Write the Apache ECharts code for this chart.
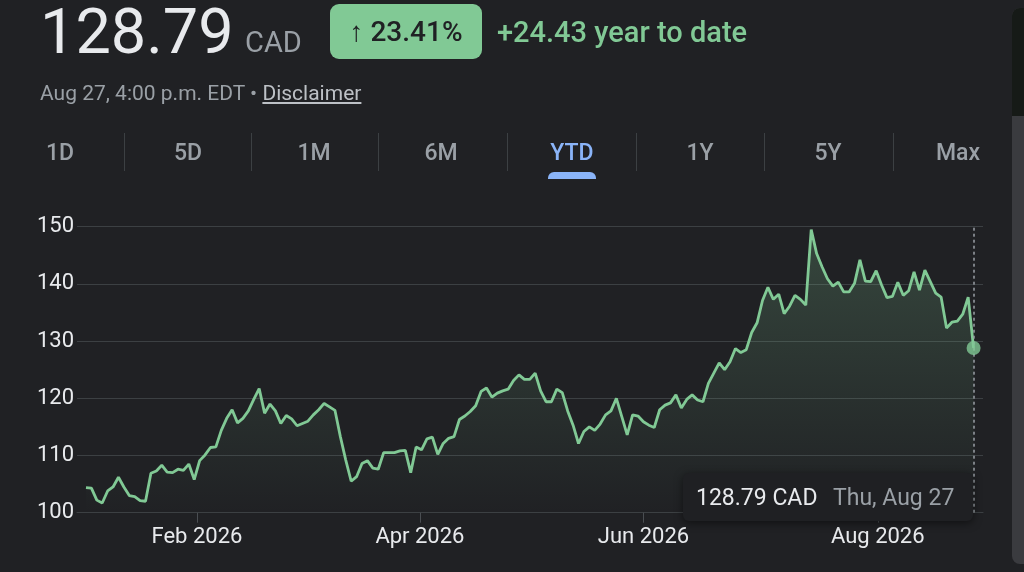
<!DOCTYPE html>
<html>
<head>
<meta charset="utf-8">
<script src="https://cdn.jsdelivr.net/npm/echarts@6/dist/echarts.min.js"></script>
<style>
html, body { margin: 0; padding: 0; background: #202124; width: 1024px; height: 572px; overflow: hidden; font-family: Roboto, "Noto Sans", sans-serif; }
#chart { position: absolute; left: 0; top: 0; width: 1024px; height: 572px; }
.abs { position: absolute; white-space: nowrap; line-height: 1; z-index: 2; }
.tab { position: absolute; top: 141px; width: 90px; margin-left: -45px; text-align: center; font-size: 23px; font-weight: 500; color: #9aa0a6; line-height: 23px; z-index: 2; }
.sep { position: absolute; top: 133px; width: 1px; height: 38px; background: #3c4043; z-index: 2; }
</style>
</head>
<body>
<div id="chart"></div>

<div class="abs" style="left:40px; top:0px; font-size:63px; color:#e8eaed;">128.79</div>
<div class="abs" style="left:245px; top:28px; font-size:29px; color:#9aa0a6;">CAD</div>
<div class="abs" style="left:330px; top:4px; width:152px; height:55px; border-radius:9px; background:#81c995; color:#202124; font-size:28px; font-weight:500; line-height:55px; text-align:center;">↑ 23.41%</div>
<div class="abs" style="left:497px; top:18px; font-size:29px; font-weight:500; color:#81c995;">+24.43 year to date</div>
<div class="abs" style="left:40px; top:83px; font-size:21px; color:#9aa0a6;">Aug 27, 4:00 p.m. EDT • <span style="text-decoration:underline; color:#bdc1c6;">Disclaimer</span></div>

<div id="tabs"></div>

<div class="abs" style="left:1012px; top:8px; width:20px; height:556px; border-radius:8px; background:#3a3b3f; z-index:1;"></div>
<div class="abs" style="left:1012px; top:8px; width:20px; height:108px; border-top-left-radius:8px; background:#161a17; z-index:1;"></div>

<div class="abs" style="left:683px; top:473px; width:290px; height:48px; border-radius:6px; background:#1f2023; box-shadow:0 2px 8px rgba(0,0,0,0.5); z-index:3;">
  <span style="position:absolute; left:13px; top:13px; font-size:23px; color:#e8eaed;">128.79 CAD</span>
  <span style="position:absolute; left:150px; top:13px; font-size:23px; color:#9aa0a6;">Thu, Aug 27</span>
</div>

<script>
// closing prices, one per trading day, Jan 2 - Aug 27 2026
var prices = [
  104.4, 104.3, 102.2, 101.7, 103.8, 104.5, 106.2, 104.5, 103.0, 102.8,
  102.1, 102.0, 106.9, 107.3, 108.3, 107.1, 107.0, 107.6, 107.4, 108.5,
  105.8, 109.1, 110.1, 111.4, 111.5, 114.4, 116.5, 118.0, 115.7, 116.5,
  117.8, 119.8, 121.7, 117.4, 119.0, 117.8, 115.6, 117.0, 116.4, 115.2,
  115.6, 116.0, 117.1, 118.0, 119.1, 118.5, 117.9, 113.3, 109.2, 105.5,
  106.3, 108.6, 109.1, 107.8, 107.6, 110.5, 110.5, 110.5, 110.8, 110.9,
  107.0, 111.5, 111.0, 112.9, 113.2, 110.2, 112.1, 113.0, 113.3, 116.3,
  116.9, 117.7, 118.7, 121.2, 121.8, 120.2, 120.9, 121.3, 121.6, 123.1,
  124.1, 123.3, 123.3, 124.4, 121.3, 119.4, 119.4, 121.6, 121.0, 117.8,
  115.3, 112.1, 114.2, 115.0, 114.4, 115.5, 117.1, 117.8, 120.0, 116.8,
  113.6, 117.1, 116.9, 115.9, 115.3, 114.9, 118.0, 118.8, 119.2, 120.6,
  118.3, 119.8, 120.6, 119.7, 119.4, 122.6, 124.4, 126.2, 125.0, 126.4,
  128.7, 128.0, 128.5, 131.5, 133.2, 137.1, 139.4, 137.3, 138.2, 134.8,
  136.1, 138.0, 137.3, 136.3, 149.5, 145.3, 143.0, 140.9, 139.6, 140.3,
  138.6, 138.6, 140.1, 144.2, 140.5, 140.4, 142.3, 139.8, 137.6, 137.8,
  140.3, 138.0, 138.8, 142.1, 138.9, 142.4, 140.4, 138.4, 137.7, 132.3,
  133.3, 133.5, 134.7, 137.7, 128.79
];
// month starts, as positions in trading days
var monthTicks = [20.5, 61.7, 103, 146.3];
var monthLabels = ['Feb 2026', 'Apr 2026', 'Jun 2026', 'Aug 2026'];
var rangeTabs = ['1D', '5D', '1M', '6M', 'YTD', '1Y', '5Y', 'Max'];

// tab row
var tabCenters = [60, 188, 314, 441, 572, 700, 828, 958];
var tabsEl = document.getElementById('tabs');
rangeTabs.forEach(function(t, i) {
    var d = document.createElement('div');
    d.className = 'tab';
    d.style.left = tabCenters[i] + 'px';
    d.textContent = t;
    if (t == 'YTD') {
        d.style.color = '#8ab4f8';
        var u = document.createElement('div');
        u.className = 'abs';
        u.style.cssText = 'left:' + (tabCenters[i] - 24) + 'px;top:172px;width:48px;height:7px;background:#8ab4f8;border-radius:6px 6px 0 0;';
        tabsEl.appendChild(u);
    }
    tabsEl.appendChild(d);
    if (i > 0) {
        var s = document.createElement('div');
        s.className = 'sep';
        s.style.left = Math.round((tabCenters[i - 1] + tabCenters[i]) / 2) + 'px';
        tabsEl.appendChild(s);
    }
});

var chart = echarts.init(document.getElementById('chart'));
var last = prices.length - 1;
var lineData = prices.map(function(v, i) { return [i, v]; });

chart.setOption({
    backgroundColor: '#202124',
    animation: false,
    textStyle: { fontFamily: 'Roboto' },
    grid: { left: 77, right: 41, top: 226.7, bottom: 59.3 },
    xAxis: {
        type: 'value',
        min: -1.66,
        max: last + 1.74,
        splitLine: { show: false },
        axisLine: { show: true, lineStyle: { color: '#3c4043' } },
        axisTick: { show: true, customValues: monthTicks, length: 10, lineStyle: { color: '#4a4e52' } },
        axisLabel: {
            customValues: monthTicks,
            color: '#e8eaed',
            fontSize: 22,
            margin: 14,
            formatter: function(v) {
                var best = 0;
                monthTicks.forEach(function(t, i) {
                    if (Math.abs(t - v) < Math.abs(monthTicks[best] - v)) best = i;
                });
                return monthLabels[best];
            }
        }
    },
    yAxis: {
        type: 'value',
        min: 100,
        max: 150,
        interval: 10,
        axisLine: { show: false },
        axisTick: { show: false },
        axisLabel: { color: '#e8eaed', fontSize: 22, margin: 3 },
        splitLine: { lineStyle: { color: '#3c4043', width: 1 } }
    },
    series: [{
        type: 'line',
        data: lineData,
        symbol: 'none',
        lineStyle: { color: '#81c995', width: 2.8 },
        areaStyle: {
            color: new echarts.graphic.LinearGradient(0, 0, 0, 1, [
                { offset: 0, color: 'rgba(129,201,149,0.32)' },
                { offset: 1, color: 'rgba(129,201,149,0)' }
            ])
        },
        markLine: {
            silent: true,
            symbol: ['none', 'none'],
            label: { show: false },
            lineStyle: { color: '#9aa0a6', type: [3, 3], width: 1.5 },
            data: [{ xAxis: last }]
        }
    }, {
        type: 'scatter',
        data: [[last, prices[last]]],
        symbolSize: 14,
        itemStyle: { color: '#81c995' },
        z: 5
    }]
});
</script>
</body>
</html>
